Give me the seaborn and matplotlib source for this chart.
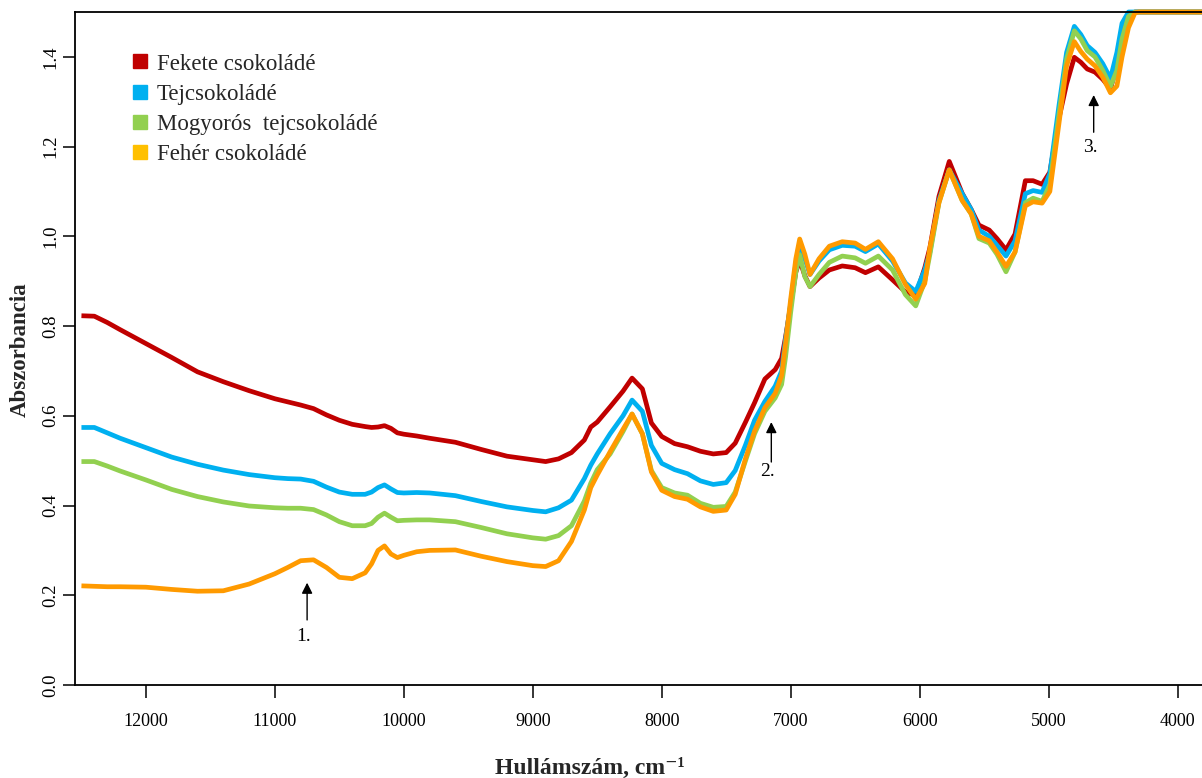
import matplotlib
matplotlib.use("Agg")
import matplotlib.pyplot as plt
from matplotlib.lines import Line2D
import numpy as np
import pandas as pd
import seaborn as sns

# Wavenumber grid (cm-1) and absorbance for the four chocolate samples
wavenumber = [12500, 12400, 12300, 12200, 12000, 11800, 11600, 11400, 11200, 11000,
              10900, 10800, 10700, 10600, 10500, 10400, 10300, 10250, 10200, 10150,
              10100, 10050, 10000, 9900, 9800, 9600, 9400, 9200, 9000, 8900,
              8800, 8700, 8600, 8550, 8500, 8400, 8300, 8230, 8150, 8080,
              8000, 7900, 7800, 7700, 7600, 7500, 7430, 7350, 7280, 7200,
              7120, 7070, 7040, 7000, 6960, 6930, 6890, 6850, 6780, 6700,
              6600, 6500, 6420, 6320, 6210, 6110, 6030, 5960, 5920, 5850,
              5770, 5670, 5600, 5540, 5460, 5400, 5330, 5260, 5180, 5120,
              5050, 4990, 4920, 4860, 4800, 4750, 4700, 4640, 4580, 4520,
              4470, 4430, 4380, 4330, 4300, 4200, 4000, 3810]

fekete = [0.823, 0.822, 0.808, 0.792, 0.761, 0.730, 0.698, 0.676, 0.656, 0.638,
          0.631, 0.624, 0.616, 0.602, 0.590, 0.581, 0.576, 0.574, 0.575, 0.578,
          0.572, 0.562, 0.559, 0.555, 0.550, 0.541, 0.525, 0.510, 0.502, 0.498,
          0.504, 0.518, 0.546, 0.575, 0.586, 0.620, 0.655, 0.684, 0.660, 0.584,
          0.554, 0.538, 0.531, 0.521, 0.515, 0.518, 0.539, 0.586, 0.629, 0.682,
          0.703, 0.728, 0.775, 0.845, 0.920, 0.947, 0.912, 0.888, 0.907, 0.925,
          0.934, 0.930, 0.919, 0.932, 0.903, 0.876, 0.868, 0.930, 0.975, 1.089,
          1.167, 1.096, 1.060, 1.025, 1.014, 0.995, 0.970, 1.005, 1.124, 1.124,
          1.116, 1.143, 1.262, 1.340, 1.399, 1.388, 1.373, 1.366, 1.350, 1.329,
          1.380, 1.430, 1.488, 1.500, 1.500, 1.500, 1.500, 1.500]

tej = [0.574, 0.574, 0.562, 0.550, 0.529, 0.508, 0.492, 0.479, 0.469, 0.462,
       0.460, 0.459, 0.454, 0.441, 0.430, 0.425, 0.425, 0.430, 0.440, 0.446,
       0.437, 0.429, 0.428, 0.429, 0.428, 0.422, 0.409, 0.397, 0.389, 0.386,
       0.395, 0.412, 0.460, 0.490, 0.515, 0.560, 0.600, 0.635, 0.610, 0.534,
       0.494, 0.480, 0.471, 0.455, 0.447, 0.451, 0.478, 0.535, 0.590, 0.632,
       0.666, 0.700, 0.770, 0.850, 0.940, 0.985, 0.950, 0.915, 0.945, 0.970,
       0.980, 0.978, 0.966, 0.983, 0.945, 0.896, 0.877, 0.925, 0.965, 1.080,
       1.148, 1.095, 1.060, 1.014, 1.000, 0.980, 0.956, 0.990, 1.095, 1.102,
       1.098, 1.140, 1.290, 1.410, 1.468, 1.450, 1.425, 1.410, 1.385, 1.352,
       1.410, 1.475, 1.500, 1.500, 1.500, 1.500, 1.500, 1.500]

mogyoros = [0.498, 0.498, 0.488, 0.477, 0.457, 0.436, 0.420, 0.408, 0.399, 0.395,
            0.394, 0.394, 0.391, 0.379, 0.364, 0.355, 0.355, 0.360, 0.374, 0.383,
            0.374, 0.366, 0.367, 0.368, 0.368, 0.364, 0.351, 0.337, 0.328, 0.325,
            0.333, 0.355, 0.410, 0.450, 0.480, 0.515, 0.565, 0.604, 0.560, 0.478,
            0.440, 0.428, 0.423, 0.405, 0.396, 0.398, 0.430, 0.500, 0.560, 0.610,
            0.640, 0.670, 0.730, 0.830, 0.920, 0.959, 0.910, 0.888, 0.915, 0.942,
            0.956, 0.952, 0.940, 0.956, 0.925, 0.870, 0.845, 0.900, 0.960, 1.075,
            1.148, 1.080, 1.050, 0.995, 0.985, 0.960, 0.921, 0.965, 1.075, 1.085,
            1.078, 1.115, 1.270, 1.395, 1.458, 1.440, 1.414, 1.400, 1.370, 1.334,
            1.370, 1.440, 1.490, 1.500, 1.500, 1.500, 1.500, 1.500]

feher = [0.221, 0.220, 0.219, 0.219, 0.218, 0.213, 0.209, 0.210, 0.225, 0.248,
         0.262, 0.277, 0.279, 0.262, 0.240, 0.237, 0.250, 0.270, 0.300, 0.310,
         0.292, 0.284, 0.289, 0.297, 0.300, 0.301, 0.287, 0.275, 0.266, 0.264,
         0.277, 0.320, 0.390, 0.440, 0.468, 0.520, 0.570, 0.604, 0.560, 0.475,
         0.434, 0.420, 0.414, 0.397, 0.387, 0.390, 0.425, 0.505, 0.566, 0.618,
         0.650, 0.690, 0.760, 0.860, 0.950, 0.994, 0.960, 0.915, 0.950, 0.978,
         0.988, 0.985, 0.971, 0.988, 0.950, 0.893, 0.860, 0.895, 0.975, 1.075,
         1.148, 1.080, 1.050, 1.000, 0.990, 0.965, 0.933, 0.965, 1.068, 1.077,
         1.074, 1.100, 1.250, 1.380, 1.434, 1.412, 1.395, 1.380, 1.355, 1.320,
         1.335, 1.400, 1.465, 1.498, 1.500, 1.500, 1.500, 1.500]

samples = ["Fekete csokoládé", "Tejcsokoládé", "Mogyorós  tejcsokoládé", "Fehér csokoládé"]
line_colors = ["#C00000", "#00B0F0", "#92D050", "#FF9A00"]
key_colors = ["#C00000", "#00B0F0", "#92D050", "#FFC000"]

y_ticks = [0.0, 0.2, 0.4, 0.6, 0.8, 1.0, 1.2, 1.4]
x_ticks = [12000, 11000, 10000, 9000, 8000, 7000, 6000, 5000, 4000]

# Arrow annotations: label, wavenumber, arrow tail, arrow tip, label height
markers = [("1.", 10750, 0.145, 0.228, 0.108),
           ("2.", 7150, 0.497, 0.586, 0.475),
           ("3.", 4650, 1.232, 1.315, 1.197)]

df = pd.DataFrame({
    "wavenumber": wavenumber * 4,
    "absorbance": fekete + tej + mogyoros + feher,
    "sample": sum([[s] * len(wavenumber) for s in samples], []),
})

sns.set_theme(style="ticks")
plt.rcParams["font.family"] = ["Liberation Serif", "DejaVu Serif"]

fig = plt.figure(figsize=(12.02, 7.78), dpi=100)
ax = fig.add_axes([75 / 1202, (778 - 685) / 778, (1202 - 75) / 1202, (685 - 12) / 778])

sns.lineplot(data=df, x="wavenumber", y="absorbance", hue="sample",
             hue_order=samples, palette=line_colors, linewidth=3.4,
             legend=False, ax=ax, sort=True)
for ln in ax.lines:
    ln.set_clip_on(False)
    ln.set_solid_joinstyle("round")
    ln.set_solid_capstyle("butt")

ax.set_xlim(12550, 3810)
ax.set_ylim(0, 1.5)
ax.set_xticks(x_ticks)
ax.set_yticks(y_ticks)
ax.set_xticklabels([str(t) for t in x_ticks], fontsize=13)
ax.set_yticklabels([f"{t:.1f}" for t in y_ticks], fontsize=13.5,
                   rotation=90, va="center")
ax.tick_params(axis="both", direction="out", length=9, width=1.1, colors="black")
ax.tick_params(axis="x", pad=11)
ax.tick_params(axis="y", pad=2)
for side in ["left", "bottom", "top"]:
    ax.spines[side].set_color("black")
    ax.spines[side].set_linewidth(1.3)
ax.spines["right"].set_visible(False)
ax.grid(False)

ax.set_xlabel("Hullámszám, cm⁻¹", fontsize=17, fontweight="bold")
ax.xaxis.set_label_coords((590 - 75) / (1202 - 75), -(758 - 685) / (685 - 12))
ax.set_ylabel("Abszorbancia", fontsize=16.5, fontweight="bold")
ax.yaxis.set_label_coords(-(75 - 31) / (1202 - 75), (685 - 350) / (685 - 12))

for label, wn, y0, y1, yt in markers:
    ax.annotate("", xy=(wn, y1), xytext=(wn, y0),
                arrowprops=dict(arrowstyle="-|>", color="black", lw=1.0,
                                mutation_scale=16, shrinkA=0, shrinkB=0))
    ax.text(wn + 30, yt, label, fontsize=14, ha="center", va="center", color="black")

handles = [Line2D([], [], linestyle="none", marker="s", markersize=10.5,
                  markerfacecolor=c, markeredgecolor=c) for c in key_colors]
ax.legend(handles, samples, loc="upper left", bbox_to_anchor=(0.041, 0.952),
          frameon=False, fontsize=16.5, handlelength=0.8, handletextpad=0.35,
          labelspacing=0.4, borderaxespad=0)

fig.savefig("out.png", dpi=100, facecolor="white")
